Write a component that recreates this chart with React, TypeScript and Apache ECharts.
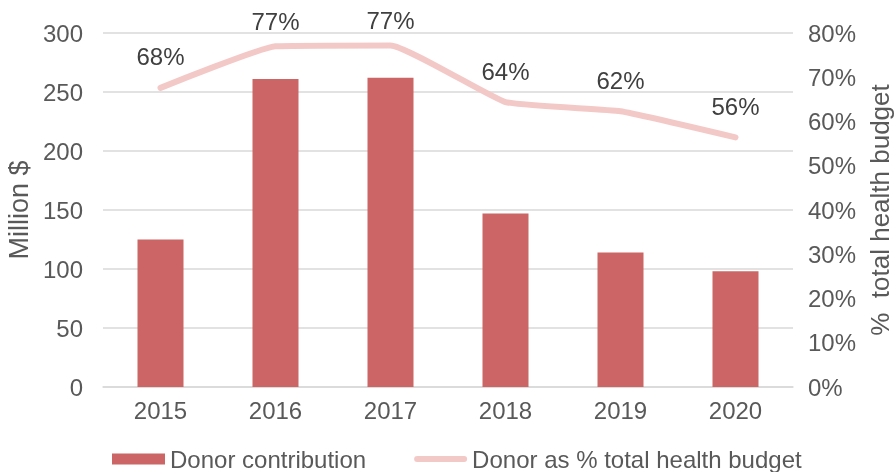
import React, { useEffect, useRef } from "react";
import * as echarts from "echarts";

const categories = ["2015", "2016", "2017", "2018", "2019", "2020"];
const donorContribution = [125, 261, 262, 147, 114, 98];
const donorShare = [67.6, 77.0, 77.2, 64.4, 62.3, 56.4];
const shareLabels = ["68%", "77%", "77%", "64%", "62%", "56%"];

const FONT = "'Liberation Sans', Arial, sans-serif";
const TEXT = "#595959";
const FS = 24;
const LINE_COLOR = "#f3c9c7";

export default function App() {
  const ref = useRef<HTMLDivElement>(null);
  useEffect(() => {
    if (!ref.current) return;
    const chart = echarts.init(ref.current, undefined, { renderer: "svg" });
    chart.setOption({
      animation: false,
      textStyle: { fontFamily: FONT },
      grid: {
        left: 103,
        right: 102,
        top: 33,
        bottom: 85,
        containLabel: false,
        outerBoundsMode: "none",
      },
      legend: {
        bottom: 0,
        left: 112,
        itemWidth: 53,
        itemHeight: 11,
        itemGap: 48,
        padding: 0,
        textStyle: { fontFamily: FONT, fontSize: FS, color: TEXT, lineHeight: 26 },
        data: [
          { name: "Donor contribution", icon: "rect" },
          {
            name: "Donor as % total health budget",
            icon: "path://M3,2.5 L50,2.5 A3,3 0 0 1 50,8.5 L3,8.5 A3,3 0 0 1 3,2.5 Z M0,0 M53,11",
            itemStyle: { color: LINE_COLOR, opacity: 1 },
          },
        ],
      },
      xAxis: {
        type: "category",
        data: categories,
        axisTick: { show: false },
        axisLine: { lineStyle: { color: "#d9d9d9", width: 1.5 } },
        axisLabel: { color: TEXT, fontSize: FS, margin: 11, fontFamily: FONT },
      },
      yAxis: [
        {
          type: "value",
          min: 0,
          max: 300,
          interval: 50,
          name: "Million $",
          nameLocation: "middle",
          nameRotate: 90,
          nameGap: 68,
          nameTextStyle: { color: TEXT, fontSize: 27, fontFamily: FONT },
          axisLabel: { color: TEXT, fontSize: FS, margin: 20, fontFamily: FONT },
          splitLine: { lineStyle: { color: "#d9d9d9", width: 1.5 } },
          axisLine: { show: false },
          axisTick: { show: false },
        },
        {
          type: "value",
          min: 0,
          max: 80,
          interval: 10,
          position: "right",
          name: "%  total health budget",
          nameLocation: "middle",
          nameRotate: 90,
          nameGap: 73,
          nameTextStyle: { color: TEXT, fontSize: 26, fontFamily: FONT },
          axisLabel: {
            color: TEXT,
            fontSize: FS,
            margin: 15,
            fontFamily: FONT,
            formatter: "{value}%",
          },
          splitLine: { show: false },
          axisLine: { show: false },
          axisTick: { show: false },
        },
      ],
      series: [
        {
          name: "Donor contribution",
          type: "bar",
          data: donorContribution,
          barWidth: 46,
          itemStyle: { color: "#cc6666" },
        },
        {
          name: "Donor as % total health budget",
          type: "line",
          yAxisIndex: 1,
          data: donorShare.map((v) => ({
            value: v,
            label: { distance: v > 75 ? 12 : 18 },
          })),
          smooth: 0.12,
          symbol: "circle",
          symbolSize: 2,
          showSymbol: true,
          lineStyle: { color: LINE_COLOR, width: 6, cap: "round" },
          itemStyle: { color: "transparent", borderWidth: 0 },
          label: {
            show: true,
            position: "top",
            distance: 18,
            color: "#404040",
            fontSize: FS,
            fontFamily: FONT,
            formatter: (p: any) => shareLabels[p.dataIndex],
          },
        },
      ],
    });
    return () => chart.dispose();
  }, []);
  return (
    <div
      ref={ref}
      style={{ position: "fixed", left: 0, top: 0, width: 895, height: 472 }}
    />
  );
}
